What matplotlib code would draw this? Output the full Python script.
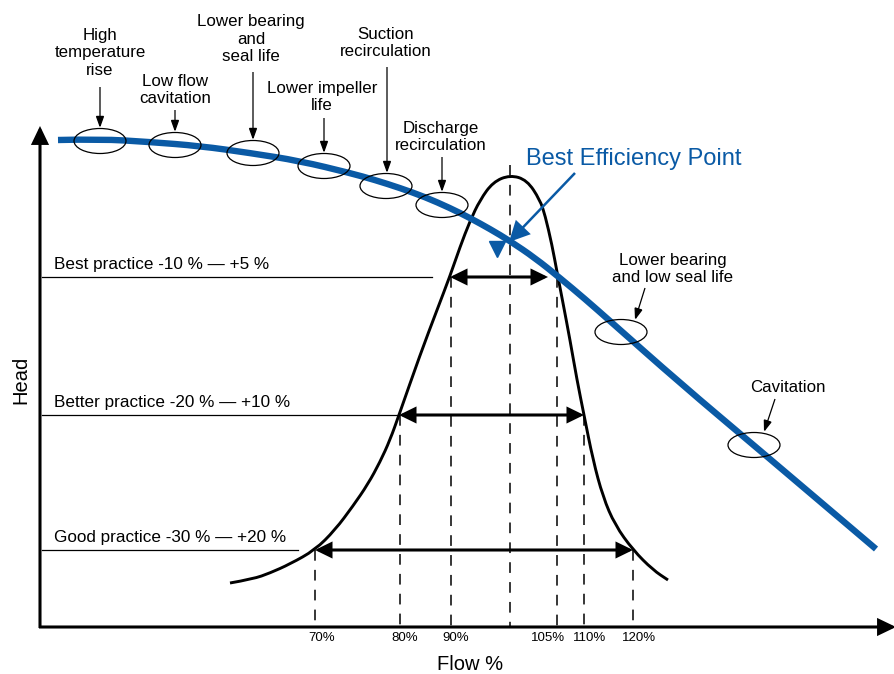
import matplotlib
matplotlib.use("Agg")
import matplotlib.pyplot as plt
from matplotlib.patches import Ellipse, FancyArrowPatch, PathPatch
from matplotlib.path import Path

plt.rcParams['font.family'] = ['Liberation Sans', 'DejaVu Sans']

# ---------------- data (schematic coordinates: x = position, y = screen-like head, inverted) -------------
# Pump head curve
head_x = [58, 100, 150, 200, 250, 300, 350, 375, 400, 425, 450, 470, 490, 510, 535, 560, 585, 610, 680, 757, 876]
head_y = [140, 139, 142, 146, 153, 161, 173, 180, 188, 197, 208, 218, 229, 241, 258, 278, 299, 321, 383, 448, 549]

# Bell (efficiency) curve
bell_x = [230, 253, 270, 290, 315, 335, 353, 368, 380, 390, 399, 420, 437, 450, 460, 470, 480, 493, 510,
          527, 540, 545, 552, 557, 563, 570, 577, 584, 593, 603, 615, 633, 653, 668]
bell_y = [583, 579, 573, 564, 550, 530, 506, 484, 462, 440, 415, 355, 310, 276, 247, 221, 200, 182, 175,
          180, 200, 215, 245, 272, 303, 340, 380, 415, 460, 497, 525, 550, 570, 580]

# Flow markers
flow_pos = [315, 400, 451, 510, 557, 584, 633]
flow_top = [550, 415, 277, 165, 277, 415, 550]
tick_labels = ["70%", "80%", "90%", "105%", "110%", "120%"]
tick_label_x = [322, 405, 456, 548, 590, 639]

# Practice bands
practice_labels = ["Best practice -10 % \u2014 +5 %", "Better practice -20 % \u2014 +10 %",
                   "Good practice -30 % \u2014 +20 %"]
practice_y = [277, 415, 550]
practice_line_end = [432, 398, 298]
practice_left = [450, 399, 315]
practice_right = [548, 584, 633]

# Problem annotations
notes = ["High\ntemperature\nrise", "Low flow\ncavitation", "Lower bearing\nand\nseal life",
         "Lower impeller\nlife", "Suction\nrecirculation", "Discharge\nrecirculation",
         "Lower bearing\nand low seal life", "Cavitation"]
note_x = [100, 175, 251, 322, 386, 441, 673, 788]
note_y = [53, 90, 39, 97, 43, 137, 269, 388]
ell_x = [100, 175, 253, 324, 386, 442, 621, 754]
ell_y = [141, 145, 153, 166, 186, 205, 332, 445]
arr_from = [(100, 87), (175, 110), (253, 72), (324, 118), (387, 67), (442, 157), (645, 288), (775, 399)]
arr_to = [(100, 128), (175, 132), (253, 140), (324, 153), (387, 173), (442, 192), (635, 320), (764, 432)]

bep = (509, 242)
bep_label = "Best Efficiency Point"

BLUE = '#0A5AA5'

fig = plt.figure(figsize=(8.95, 6.74), dpi=100)
ax = fig.add_axes([0, 0, 1, 1])
ax.set_xlim(0, 895)
ax.set_ylim(674, 0)
ax.axis('off')


def arrow(p0, p1, style, ms, lw, color='black', z=3):
    a = FancyArrowPatch(p0, p1, arrowstyle=style, mutation_scale=ms, lw=lw, color=color,
                        shrinkA=0, shrinkB=0, zorder=z, joinstyle='miter', capstyle='butt')
    ax.add_patch(a)


def smooth_curve(xs, ys, color, lw, z):
    # quadratic Bezier path using the read points as control points
    pts = list(zip(xs, ys))
    verts = [pts[0]]
    codes = [Path.MOVETO]
    for i in range(1, len(pts) - 1):
        mid = ((pts[i][0] + pts[i + 1][0]) / 2, (pts[i][1] + pts[i + 1][1]) / 2)
        verts += [pts[i], mid]
        codes += [Path.CURVE3, Path.CURVE3]
    verts.append(pts[-1])
    codes.append(Path.LINETO)
    ax.add_patch(PathPatch(Path(verts, codes), fill=False, ec=color, lw=lw, zorder=z, capstyle='butt'))


# Axes with arrows
arrow((40, 628), (40, 126), '-|>,head_length=0.5,head_width=0.24', 20, 2.2)
arrow((39, 627), (896, 627), '-|>,head_length=0.5,head_width=0.24', 20, 2.2)
ax.text(21, 380, "Head", rotation=90, ha='center', va='center', fontsize=14.5)
ax.text(470, 664, "Flow %", ha='center', va='center', fontsize=14.5)

# Dashed flow markers
for x, t in zip(flow_pos, flow_top):
    ax.plot([x, x], [t, 627], color='black', lw=1.1, dashes=(7, 6), zorder=2)
for lab, x in zip(tick_labels, tick_label_x):
    ax.text(x, 638, lab, ha='center', va='center', fontsize=9.5)

# Practice lines and arrows
for lab, y, xe, xl, xr in zip(practice_labels, practice_y, practice_line_end, practice_left, practice_right):
    ax.plot([42, xe], [y, y], color='black', lw=0.9, zorder=2)
    ax.text(54, y - 8, lab, ha='left', va='baseline', fontsize=12.3)
    arrow((xl, y), (xr, y), '<|-|>,head_length=0.45,head_width=0.22', 20, 2.2)

# Bell curve
smooth_curve(bell_x, bell_y, 'black', 2.1, 3)

# Head curve
smooth_curve(head_x, head_y, BLUE, 4.6, 4)

# Ellipses and annotations
for ex, ey in zip(ell_x, ell_y):
    ax.add_patch(Ellipse((ex, ey), 52, 25, fill=False, ec='black', lw=0.9, zorder=5))
for txt, tx, ty in zip(notes, note_x, note_y):
    ax.text(tx, ty, txt, ha='center', va='center', fontsize=12.2, linespacing=1.18)
for p0, p1 in zip(arr_from, arr_to):
    arrow(p0, p1, '-|>,head_length=0.7,head_width=0.25', 10, 0.9)

# Best efficiency point
ax.text(526, 165, bep_label, ha='left', va='baseline', fontsize=17, color=BLUE)
arrow((575, 173), bep, '-|>,head_length=0.6,head_width=0.3', 20, 1.8, color=BLUE, z=6)
ax.plot([bep[0] - 12], [bep[1] + 7], marker='v', markersize=12, color=BLUE, zorder=6)

fig.savefig("out.png", dpi=100)
